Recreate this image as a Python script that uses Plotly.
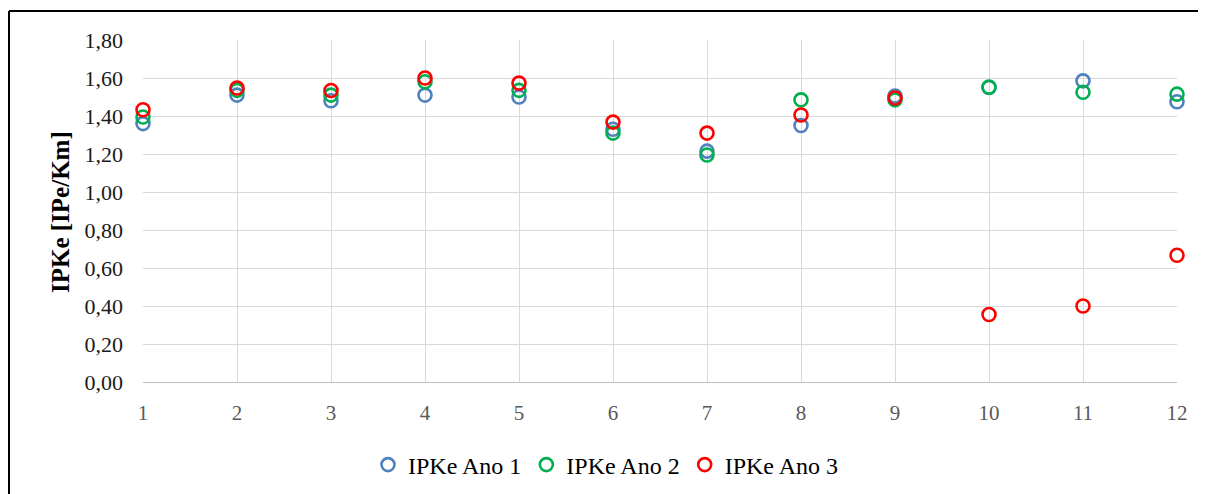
import plotly.graph_objects as go

meses = [1, 2, 3, 4, 5, 6, 7, 8, 9, 10, 11, 12]
ipke_ano1 = [1.36, 1.51, 1.48, 1.51, 1.50, 1.33, 1.215, 1.35, 1.505, 1.55, 1.585, 1.475]
ipke_ano2 = [1.395, 1.535, 1.51, 1.58, 1.535, 1.31, 1.195, 1.485, 1.485, 1.552, 1.525, 1.515]
ipke_ano3 = [1.433, 1.547, 1.534, 1.60, 1.573, 1.368, 1.31, 1.405, 1.495, 0.355, 0.40, 0.667]
y_ticks = [0.0, 0.2, 0.4, 0.6, 0.8, 1.0, 1.2, 1.4, 1.6, 1.8]
y_ticklabels = ["0,00", "0,20", "0,40", "0,60", "0,80", "1,00", "1,20", "1,40", "1,60", "1,80"]

series = [
    ("IPKe Ano 1", ipke_ano1, "#4f81bd"),
    ("IPKe Ano 2", ipke_ano2, "#00b050"),
    ("IPKe Ano 3", ipke_ano3, "#ff0000"),
]

fig = go.Figure()
for name, vals, col in series:
    fig.add_trace(go.Scatter(
        x=meses, y=vals, name=name, mode="markers",
        marker=dict(symbol="circle-open", size=13, color=col, line=dict(width=2.6, color=col)),
        cliponaxis=False,
    ))

# page body has an 8px margin; work in screen pixels and convert
OFF = 8
W, H = 1206, 494
SL, SR, ST, SB = 143, 1177, 40, 382  # plot area in screen pixels
L, T = SL - OFF, ST - OFF
R = W - (SR - OFF)
B = H - (SB - OFF)
pw, ph = SR - SL, SB - ST

def px(x):
    return (x - SL) / pw

def py(y):
    return (SB - y) / ph

fig.update_layout(
    width=W, height=H,
    margin=dict(l=L, r=R, t=T, b=B),
    paper_bgcolor="white", plot_bgcolor="white",
    font=dict(family="Liberation Serif", size=20, color="#000000"),
    showlegend=True,
    legend=dict(
        orientation="h", x=px(606), xanchor="center", y=py(465), yanchor="middle",
        font=dict(family="Liberation Serif", size=24, color="#000000"),
        itemwidth=30, tracegroupgap=0,
    ),
    xaxis=dict(
        range=[1, 12], tickmode="array", tickvals=meses, ticktext=[str(m) for m in meses],
        showgrid=True, gridcolor="#d9d9d9", gridwidth=1.3,
        showline=True, linecolor="#bfbfbf", linewidth=1.3,
        zeroline=False, ticks="", ticklabelstandoff=12,
        tickfont=dict(family="Liberation Serif", size=21, color="#595959"),
    ),
    yaxis=dict(
        range=[0, 1.8], tickmode="array", tickvals=y_ticks, ticktext=y_ticklabels,
        showgrid=True, gridcolor="#d9d9d9", gridwidth=1.3,
        showline=False, zeroline=False, ticks="", ticklabelstandoff=19,
        tickfont=dict(family="Liberation Serif", size=22, color="#1a1a1a"),
    ),
    annotations=[dict(
        text="<b>IPKe [IPe/Km]</b>", textangle=-90, x=px(60), y=py(212),
        xref="paper", yref="paper", xanchor="center", yanchor="middle", showarrow=False,
        font=dict(family="Liberation Serif", size=25, color="#000000"),
    )],
    shapes=[
        dict(type="line", xref="paper", yref="paper", x0=px(9), y0=py(11), x1=px(1230), y1=py(11),
             line=dict(color="black", width=2)),
        dict(type="line", xref="paper", yref="paper", x0=px(9), y0=py(11), x1=px(9), y1=py(520),
             line=dict(color="black", width=2)),
    ],
)

fig.write_html("out.html")
